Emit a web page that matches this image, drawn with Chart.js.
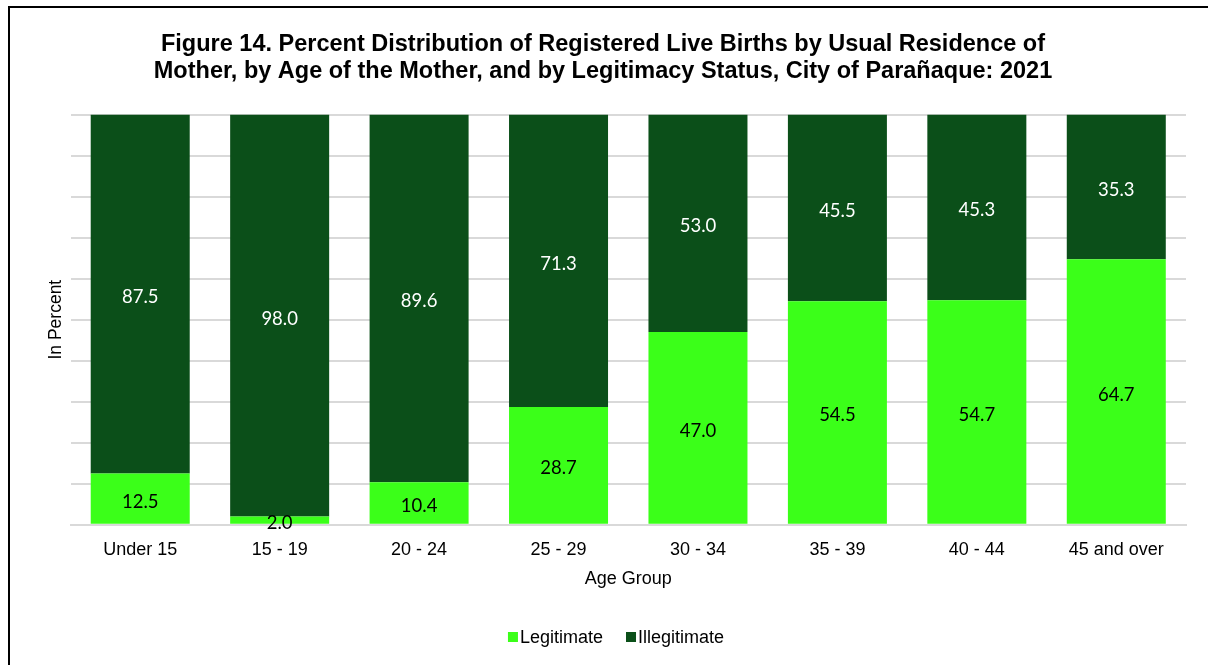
<!DOCTYPE html>
<html>
<head>
<meta charset="utf-8">
<script src="https://cdn.jsdelivr.net/npm/chart.js@4.4.1/dist/chart.umd.min.js"></script>
<style>
  html, body { margin: 0; padding: 0; background: #fff; }
  #frame { position: absolute; left: 8px; top: 6px; width: 1300px; height: 800px; border: 2px solid #000; box-sizing: border-box; }
  #wrap { position: absolute; left: 0; top: 0; width: 1208px; height: 665px; }
</style>
</head>
<body>
<div id="frame"></div>
<div id="wrap"><canvas id="chart"></canvas></div>
<script>
// data
const ageGroups = ['Under 15', '15 - 19', '20 - 24', '25 - 29', '30 - 34', '35 - 39', '40 - 44', '45 and over'];
const legitimate = [12.5, 2.0, 10.4, 28.7, 47.0, 54.5, 54.7, 64.7];
const illegitimate = [87.5, 98.0, 89.6, 71.3, 53.0, 45.5, 45.3, 35.3];

const C = { legit: '#3BFF19', illegit: '#0B4F19', grid: '#D9D9D9', ink: '#000' };
const SANS = "'Liberation Sans', Arial, sans-serif";

// value labels in the middle of each segment (no datalabels plugin offline)
const segLabels = {
  id: 'segLabels',
  afterDatasetsDraw(chart) {
    const { ctx } = chart;
    ctx.save();
    ctx.font = "18.5px Lato, 'Open Sans', sans-serif";
    ctx.textAlign = 'center';
    ctx.textBaseline = 'middle';
    chart.data.datasets.forEach((ds, i) => {
      const meta = chart.getDatasetMeta(i);
      ctx.fillStyle = i === 0 ? '#000' : '#fff';
      meta.data.forEach((bar, j) => {
        const y = (bar.y + bar.base) / 2 + 3;
        ctx.fillText(ds.data[j].toFixed(1), bar.x, y);
      });
    });
    ctx.restore();
  },
};

// Excel-style legend: small square hugging its text
const tightLegend = {
  id: 'tightLegend',
  afterDraw(chart) {
    const { ctx } = chart;
    const items = chart.data.datasets.map(d => ({ text: d.label, color: d.backgroundColor }));
    ctx.save();
    ctx.font = `18px ${SANS}`;
    ctx.textBaseline = 'middle';
    const box = 10, gap = 2, spacing = 23;
    const total = items.reduce((s, it) => s + box + gap + ctx.measureText(it.text).width, 0) + spacing * (items.length - 1);
    let x = chart.width / 2 + 12 - total / 2;
    const y = 637;
    items.forEach(it => {
      ctx.fillStyle = it.color;
      ctx.fillRect(x, y - box / 2, box, box);
      x += box + gap;
      ctx.fillStyle = C.ink;
      ctx.fillText(it.text, x, y + 1);
      x += ctx.measureText(it.text).width + spacing;
    });
    ctx.restore();
  },
};

new Chart(document.getElementById('chart'), {
  type: 'bar',
  data: {
    labels: ageGroups,
    datasets: [
      { label: 'Legitimate', data: legitimate, backgroundColor: C.legit, categoryPercentage: 1, barPercentage: 0.71 },
      { label: 'Illegitimate', data: illegitimate, backgroundColor: C.illegit, categoryPercentage: 1, barPercentage: 0.71 },
    ],
  },
  options: {
    responsive: true, maintainAspectRatio: false, animation: false,
    layout: { padding: { left: 20, right: 22, top: 0, bottom: 75 } },
    scales: {
      x: {
        stacked: true,
        grid: { display: false },
        border: { color: C.grid, width: 2 },
        ticks: { color: C.ink, font: { family: SANS, size: 18 }, padding: 6, maxRotation: 0 },
        title: { display: true, text: 'Age Group', color: C.ink, font: { family: SANS, size: 18 }, padding: { top: 2, bottom: 0 } },
      },
      y: {
        stacked: true, min: 0, max: 100,
        grid: { color: C.grid, lineWidth: 2, drawTicks: false },
        border: { display: false },
        ticks: { display: false, stepSize: 10 },
        title: { display: true, text: 'In Percent', color: C.ink, font: { family: SANS, size: 17.5 }, padding: { top: 25.5, bottom: 4 } },
      },
    },
    plugins: {
      title: {
        display: true,
        text: ['Figure 14. Percent Distribution of Registered Live Births by Usual Residence of',
               'Mother, by Age of the Mother, and by Legitimacy Status, City of Parañaque: 2021'],
        color: C.ink, font: { family: SANS, size: 23.5, weight: 'bold', lineHeight: 1.149 },
        padding: { top: 31, bottom: 29.5 },
      },
      legend: { display: false },
      tooltip: { enabled: false },
    },
  },
  plugins: [segLabels, tightLegend],
});
</script>
</body>
</html>
